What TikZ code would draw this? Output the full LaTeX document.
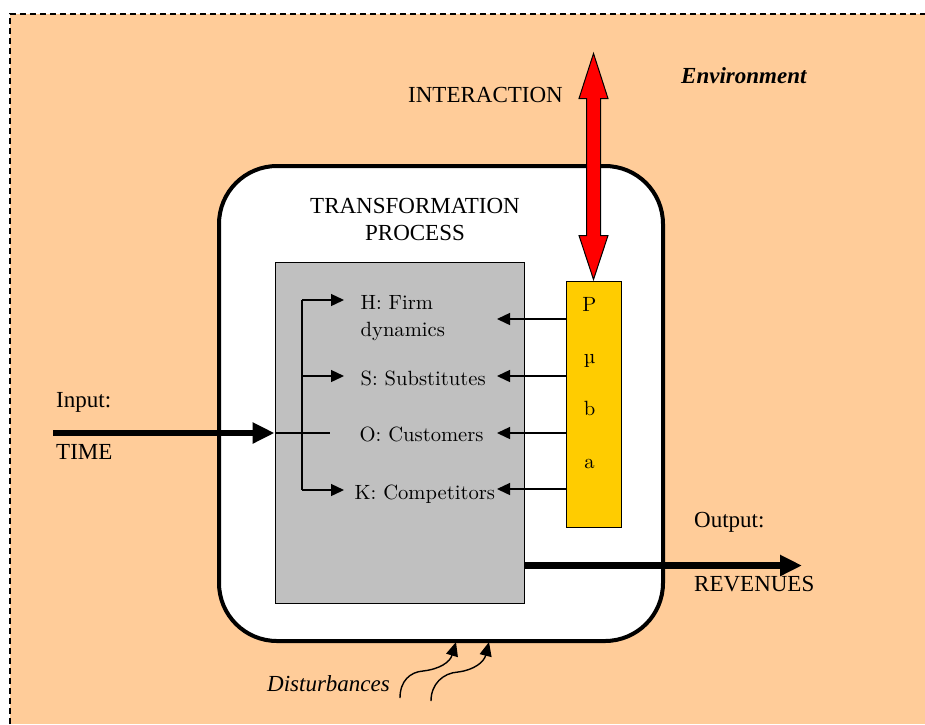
\documentclass[tikz,border=0pt]{standalone}
\usepackage{fontspec}
\newfontfamily\tms{Liberation Serif}
\newfontfamily\gar{lmroman10-regular.otf}
\usetikzlibrary{arrows.meta}
\definecolor{envfill}{RGB}{255,204,153}
\definecolor{grayfill}{RGB}{192,192,192}
\definecolor{yelfill}{RGB}{255,204,0}
\tikzset{
  lbl/.style={inner sep=0pt, anchor=base west, font=\gar\fontsize{20.6}{24}\selectfont},
  tlbl/.style={inner sep=0pt, anchor=base west, font=\tms\fontsize{23}{27}\selectfont},
  thinarrow/.style={line width=1.4pt, -{Triangle[length=13pt,width=12pt]}},
  thickarrow/.style={line width=6.5pt, -{Triangle[length=22pt,width=20pt]}},
  disarrow/.style={line width=1.4pt, -{Triangle[length=14pt,width=12pt]}},
  box/.style={draw, inner sep=0pt, line width=1pt}
}
\begin{document}
\begin{tikzpicture}[x=1pt,y=-1pt]
\useasboundingbox (0,0) rectangle (925,724);
% environment
\fill[envfill] (10,14) rectangle (925,724);
\draw[line width=1.3pt, dash pattern=on 6pt off 4pt] (10,724) -- (10,14) -- (925,14);
\node[tlbl, font=\tms\fontsize{23}{27}\selectfont\bfseries\itshape] (env) at (681,83) {Environment};
% transformation process
\node[draw, line width=4pt, fill=white, rounded corners=58pt, minimum width=444pt, minimum height=475pt, inner sep=0pt] (proc) at (441,403.5) {};
\node[inner sep=0pt, anchor=base, align=center, font=\tms\fontsize{23}{27}\selectfont] (tp) at (415,240) {TRANSFORMATION\\PROCESS};
% gray box
\node[box, fill=grayfill, minimum width=249pt, minimum height=341pt] (gray) at (399.5,432.5) {};
% yellow box
\node[box, fill=yelfill, minimum width=55pt, minimum height=246pt] (yel) at (593.5,404) {};
\node[lbl, anchor=base] (lP) at (589.5,311.5) {P};
\node[lbl, anchor=base] (lmu) at (589.5,363.5) {µ};
\node[lbl, anchor=base] (lb) at (589.5,415.5) {b};
\node[lbl, anchor=base] (la) at (589.5,468) {a};
% red interaction arrow
\draw[fill=red, line width=1pt, line join=miter] (yel.north) ++(0,-1) coordinate (rt)
  -- ++(-14.5,-44) -- ++(7.5,0) -- ++(0,-137) -- ++(-7.5,0) -- ++(14.5,-45)
  -- ++(14.5,45) -- ++(-7.5,0) -- ++(0,137) -- ++(7.5,0) -- cycle;
\node[tlbl] (inter) at (408,102) {INTERACTION};
% inner labels
\node[lbl] (H) at (360.5,309.5) {H: Firm};
\node[lbl] (H2) at (360.5,336) {dynamics};
\node[lbl] (S) at (360.5,385) {S: Substitutes};
\node[lbl] (O) at (359.5,441.5) {O: Customers};
\node[lbl] (K) at (354.5,499) {K: Competitors};
% input
\coordinate (inS) at (53,433);
\coordinate (branch) at (330,433);
\draw[thickarrow] (inS) -- (gray.west |- inS);
\draw[line width=1.4pt] (gray.west |- inS) -- (branch);
\coordinate (vtop) at (302,300);
\coordinate (vmid) at (302,376);
\coordinate (vbot) at (302,490);
\draw[line width=1.4pt] (vtop) -- (vbot);
\coordinate (aH) at (344,300);
\coordinate (aS) at (344,376);
\coordinate (aK) at (344,490);
\draw[thinarrow] (vtop) -- (aH);
\draw[thinarrow] (vmid) -- (aS);
\draw[thinarrow] (vbot) -- (aK);
\node[tlbl] (input) at (56,407) {Input:};
\node[tlbl] (time) at (56,459) {TIME};
% arrows from yellow box
\foreach \y/\n in {319/1,376/2,433/3,489/4}{
  \coordinate (ys\n) at (yel.west |- 0,\y);
  \coordinate (ye\n) at (497,\y);
  \draw[thinarrow] (ys\n) -- (ye\n);
}
% output
\coordinate (outE) at (802,565.5);
\draw[thickarrow] (gray.east |- outE) -- (outE);
\node[tlbl] (outp) at (694,527) {Output:};
\node[tlbl] (rev) at (694,591.5) {REVENUES};
% disturbances
\node[tlbl, font=\tms\fontsize{23}{27}\selectfont\itshape] (dist) at (267,691) {Disturbances};
\coordinate (d1s) at (400,698);
\coordinate (d1e) at (456,642);
\coordinate (d2s) at (431,701);
\coordinate (d2e) at (489,642);
\draw[disarrow] (d1s) .. controls (400,681) and (410,672) .. (423,671) .. controls (440,669) and (450,662) .. (d1e);
\draw[disarrow] (d2s) .. controls (431,684) and (443,673) .. (458,672) .. controls (474,670) and (484,662) .. (d2e);
\end{tikzpicture}
\end{document}
